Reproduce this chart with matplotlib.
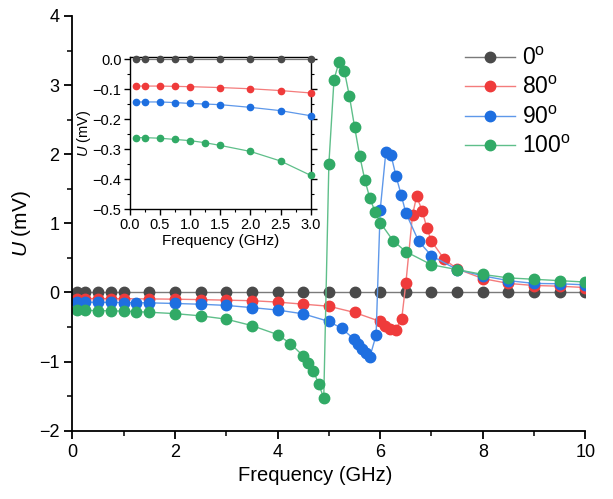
import matplotlib
matplotlib.use("Agg")
import matplotlib.pyplot as plt
from matplotlib.ticker import MultipleLocator

plt.rcParams['font.family'] = ['Liberation Sans', 'DejaVu Sans']
plt.rcParams['axes.unicode_minus'] = True
plt.rcParams['mathtext.fontset'] = 'custom'
plt.rcParams['mathtext.rm'] = 'Liberation Sans'
plt.rcParams['mathtext.it'] = 'Liberation Sans:italic'

# ---- data ----
labels = ['0$^{\\rm o}$', '80$^{\\rm o}$', '90$^{\\rm o}$', '100$^{\\rm o}$']
colors = ['#4a4a4a', '#ef3b3b', '#1e6fe0', '#31aa66']
lcolors = ['#7a7a7a', '#f47c7c', '#5e98ea', '#5fbf8a']

x_black = [0.1, 0.25, 0.5, 0.75, 1.0, 1.5, 2.0, 2.5, 3.0, 3.5, 4.0, 4.5, 5.0, 5.5,
           6.0, 6.5, 7.0, 7.5, 8.0, 8.5, 9.0, 9.5, 10.0]
y_black = [0.0] * len(x_black)

x_red = [0.1, 0.25, 0.5, 0.75, 1.0, 1.5, 2.0, 2.5, 3.0, 3.5, 4.0, 4.5, 5.0, 5.5,
         6.0, 6.1, 6.2, 6.3, 6.42, 6.5, 6.63, 6.71, 6.82, 6.91, 7.0, 7.25, 7.5,
         8.0, 8.5, 9.0, 9.5, 10.0]
y_red = [-0.089, -0.089, -0.089, -0.090, -0.091, -0.094, -0.098, -0.104, -0.112,
         -0.12, -0.14, -0.17, -0.20, -0.29, -0.42, -0.48, -0.53, -0.54, -0.38,
         0.13, 1.12, 1.39, 1.18, 0.93, 0.74, 0.48, 0.34, 0.20, 0.13, 0.10, 0.09, 0.07]

x_blue = [0.1, 0.25, 0.5, 0.75, 1.0, 1.25, 1.5, 2.0, 2.5, 3.0, 3.5, 4.0, 4.5, 5.0,
          5.25, 5.48, 5.56, 5.64, 5.72, 5.8, 5.92, 6.0, 6.11, 6.21, 6.31, 6.41, 6.5,
          6.75, 7.0, 7.5, 8.0, 8.5, 9.0, 9.5, 10.0]
y_blue = [-0.142, -0.142, -0.142, -0.144, -0.147, -0.149, -0.151, -0.160, -0.171,
          -0.188, -0.22, -0.255, -0.31, -0.42, -0.52, -0.67, -0.74, -0.82, -0.88,
          -0.93, -0.62, 1.19, 2.03, 1.99, 1.68, 1.41, 1.15, 0.74, 0.53, 0.33, 0.24,
          0.17, 0.13, 0.125, 0.11]

x_green = [0.1, 0.25, 0.5, 0.75, 1.0, 1.25, 1.5, 2.0, 2.5, 3.0, 3.5, 4.0, 4.25, 4.5,
           4.6, 4.7, 4.8, 4.9, 5.0, 5.1, 5.2, 5.3, 5.4, 5.5, 5.6, 5.7, 5.8, 5.9, 6.0,
           6.25, 6.5, 7.0, 7.5, 8.0, 8.5, 9.0, 9.5, 10.0]
y_green = [-0.261, -0.261, -0.263, -0.267, -0.271, -0.278, -0.287, -0.307, -0.339,
           -0.387, -0.48, -0.61, -0.74, -0.92, -1.02, -1.14, -1.32, -1.53, 1.86,
           3.08, 3.34, 3.21, 2.84, 2.40, 1.98, 1.63, 1.36, 1.17, 1.01, 0.75, 0.59,
           0.40, 0.33, 0.26, 0.21, 0.19, 0.17, 0.15]

series = [(x_black, y_black), (x_red, y_red), (x_blue, y_blue), (x_green, y_green)]

fig = plt.figure(figsize=(6.13, 4.99), dpi=100)
ax = fig.add_axes([0.118, 0.137, 0.837, 0.831])

for (xs, ys), c, lc, lab in zip(series, colors, lcolors, labels):
    ax.plot(xs, ys, '-', color=lc, lw=1.0, marker='o', ms=7.5,
            mfc=c, mec=c, label=lab)

ax.set_xlim(0, 10)
ax.set_ylim(-2, 4)
ax.xaxis.set_major_locator(MultipleLocator(2))
ax.xaxis.set_minor_locator(MultipleLocator(1))
ax.yaxis.set_major_locator(MultipleLocator(1))
ax.yaxis.set_minor_locator(MultipleLocator(0.5))
ax.spines['top'].set_visible(False)
ax.spines['right'].set_visible(False)
for s in ['left', 'bottom']:
    ax.spines[s].set_linewidth(1.3)
ax.tick_params(which='major', direction='out', length=6, width=1.3, labelsize=13)
ax.tick_params(which='minor', direction='out', length=3.5, width=1.1)
ax.set_xlabel('Frequency (GHz)', fontsize=14.5)
ax.xaxis.set_label_coords(0.473, -0.085)
ax.set_ylabel('$\\it{U}$ (mV)', fontsize=15, labelpad=4)

ax.legend(loc='upper right', bbox_to_anchor=(1.012, 0.975), frameon=False,
          fontsize=16.5, handlelength=2.2, handletextpad=0.3, labelspacing=0.28)

# inset
ins = fig.add_axes([0.2116, 0.5806, 0.2953, 0.3052])
for (xs, ys), c, lc in zip(series, colors, lcolors):
    xi = [x for x in xs if x <= 3.0]
    yi = [y for x, y in zip(xs, ys) if x <= 3.0]
    ins.plot(xi, yi, '-', color=lc, lw=0.9, marker='o', ms=4.5, mfc=c, mec=c,
             clip_on=False, zorder=3)
ins.set_xlim(0, 3.0)
ins.set_ylim(-0.5, 0.008)
ins.xaxis.set_major_locator(MultipleLocator(0.5))
ins.xaxis.set_minor_locator(MultipleLocator(0.25))
ins.yaxis.set_major_locator(MultipleLocator(0.1))
ins.yaxis.set_minor_locator(MultipleLocator(0.05))
ins.tick_params(which='major', direction='out', length=4, width=1.0, labelsize=10.5,
                pad=2)
ins.tick_params(which='minor', direction='out', length=2.5, width=0.8)
ins.tick_params(which='both', right=True)
ins.set_xlabel('Frequency (GHz)', fontsize=11, labelpad=2)
ins.set_ylabel('$\\it{U}$ (mV)', fontsize=10.5, labelpad=0)
for s in ins.spines.values():
    s.set_linewidth(1.0)

fig.savefig('out.png', dpi=100)
